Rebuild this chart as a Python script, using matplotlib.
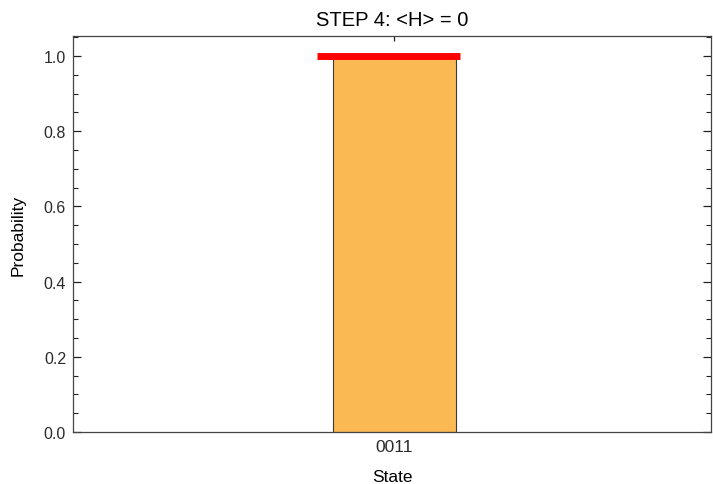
import matplotlib
matplotlib.use("Agg")

import matplotlib.pyplot as plt
from matplotlib.ticker import MultipleLocator

plt.rcParams['font.family'] = ['Liberation Sans', 'DejaVu Sans']

states = ["0011"]
probabilities = [1.0]
expected_h = 0
target_prob = 1.0

fig = plt.figure(figsize=(7.13, 4.85), dpi=100)
ax = fig.add_axes([0.1024, 0.1072, 0.8948, 0.8165])

xs = list(range(len(states)))
ax.bar(xs, probabilities, width=1.0, color="#FBB954",
       edgecolor="#3a3a3a", linewidth=0.8, zorder=2)

# reference level drawn across the top of the bar
for x in xs:
    ax.hlines(target_prob, x - 0.63, x + 0.53, color="#FF0000",
              linewidth=5, zorder=3)

ax.set_xlim(-2.61, 2.57)
ax.set_ylim(0, 1.053)
ax.set_xticks(xs)
ax.set_xticklabels(states)
ax.yaxis.set_major_locator(MultipleLocator(0.2))
ax.yaxis.set_minor_locator(MultipleLocator(0.05))
ax.yaxis.set_major_formatter(plt.FormatStrFormatter("%.1f"))

ax.tick_params(axis="both", which="both", direction="in",
               top=True, right=True, labelsize=11.5, colors="#222222",
               labelcolor="#2a2a2a")
ax.tick_params(axis="y", which="major", length=5.5, width=0.9, pad=5)
ax.tick_params(axis="y", which="minor", length=3.5, width=0.8)
ax.tick_params(axis="x", which="major", length=3.5, width=0.9, pad=5,
               labelsize=12.5)

for s in ax.spines.values():
    s.set_color("#444444")
    s.set_linewidth(0.9)

ax.set_title(f"STEP 4: <H> = {expected_h}", fontsize=14.5, pad=8)
ax.set_xlabel("State", fontsize=12.5, labelpad=11)
ax.set_ylabel("Probability", fontsize=12.5, labelpad=13)

fig.savefig("out.png", dpi=100)
